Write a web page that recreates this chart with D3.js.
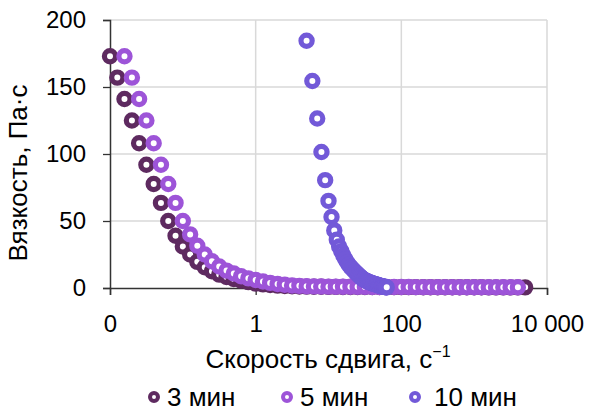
<!DOCTYPE html>
<html>
<head>
<meta charset="utf-8">
<script src="https://d3js.org/d3.v7.min.js"></script>
<style>
  body { margin:0; background:#fff; }
  text { font-family: "Liberation Sans", Arial, sans-serif; fill:#000; }
  .grid-line { stroke:#d9d9d9; stroke-width:1.5; }
</style>
</head>
<body>
<script>
// shear rate, 1/s
var rate3 = [0.01,0.0126,0.0158,0.02,0.0251,0.0316,0.0398,0.0501,0.0631,0.0794,
  0.1,0.126,0.158,0.2,0.251,0.316,0.398,0.501,0.631,0.794,
  1,1.26,1.58,2,2.51,3.16,3.98,5.01,6.31,7.94,
  10,12.6,15.8,20,25.1,31.6,39.8,50.1,63.1,79.4,
  100,126,158,200,251,316,398,501,631,794,
  1000,1259,1585,1995,2512,3162,3981,5012];
var visc3 = [173,157,141,125,108,92,77.6,63.5,50,39,
  31,25,19.5,15.5,12.5,10,8.2,6.7,5.5,4.4,
  3.3,2.7,2.2,1.8,1.5,1.3,1.15,1.05,0.95,0.88,
  0.85,0.82,0.8,0.78,0.76,0.74,0.72,0.7,0.68,0.66,
  0.65,0.63,0.62,0.6,0.59,0.58,0.56,0.55,0.54,0.53,
  0.52,0.51,0.5,0.5,0.49,0.48,0.48,0.47];

var rate5 = [0.0158,0.02,0.0251,0.0316,0.0398,0.0501,0.0631,0.0794,
  0.1,0.126,0.158,0.2,0.251,0.316,0.398,0.501,0.631,0.794,
  1,1.26,1.58,2,2.51,3.16,3.98,5.01,6.31,7.94,
  10,12.6,15.8,20,25.1,31.6,39.8,50.1,63.1,79.4,
  100,126,158,200,251,316,398,501,631,794,
  1000,1259,1585,1995,2512,3162,3981];
var visc5 = [173,157,141,125,108,92,77.6,63.5,
  50,40,31.5,25,20,16,13,10.8,8.8,7.2,
  6,4.8,3.8,3,2.4,1.9,1.6,1.35,1.2,1.1,
  1.0,0.95,0.9,0.88,0.85,0.82,0.8,0.78,0.76,0.74,
  0.72,0.7,0.68,0.66,0.65,0.63,0.62,0.6,0.59,0.58,
  0.57,0.56,0.55,0.54,0.53,0.52,0.52];

var rate10 = [5,6,7,8,9,10,11,12,13,14,15,16,17,18,19,20,21,22,23,24,25,26,27,28,29,30,
  31,32,33,34,35,36,37,38,39,40,41,42,43,44,45,46,47,48,49,50,
  51,52,53,54,55,56,57,58,59,60,61,62,63];
var visc10 = [184.5,154.5,126.5,101.5,80.5,65,53,43,36,31,27.5,24.3,21.5,19.2,17.3,15.8,14.5,13.4,
  12.3,11.3,10.4,9.5,8.7,7.9,7.2,6.5,
  6.1,5.7,5.3,5.0,4.7,4.4,4.1,3.9,3.7,3.5,3.3,3.1,2.9,2.8,2.6,2.4,2.3,2.1,2.0,1.8,
  1.7,1.5,1.4,1.3,1.2,1.1,1.0,0.9,0.8,0.7,0.65,0.6,0.5];

var seriesNames = ["3 мин", "5 мин", "10 мин"];
var seriesColors = ["#5e2a60", "#9d54d8", "#7259d8"];

var xTicks = [0.01, 1, 100, 10000];
var xTickLabels = ["0", "1", "100", "10 000"];
var yTicks = [0, 50, 100, 150, 200];

var W = 592, H = 412;
var plotLeft = 110, plotRight = 547, plotTop = 20, plotBottom = 288;
var tickFont = 24, titleFont = 26;

var svg = d3.select("body").append("svg")
  .attr("width", W).attr("height", H);

var x = d3.scaleLog().domain([0.01, 10000]).range([plotLeft, plotRight]);
var y = d3.scaleLinear().domain([0, 200]).range([plotBottom, plotTop]);

// grid
svg.append("g").selectAll("line")
  .data(yTicks.slice(1))
  .enter().append("line")
    .attr("class", "grid-line")
    .attr("x1", plotLeft).attr("x2", plotRight)
    .attr("y1", d => y(d)).attr("y2", d => y(d));
svg.append("g").selectAll("line")
  .data(xTicks.slice(1))
  .enter().append("line")
    .attr("class", "grid-line")
    .attr("x1", d => x(d)).attr("x2", d => x(d))
    .attr("y1", plotTop).attr("y2", plotBottom);

// axes
var yAxis = d3.axisLeft(y).tickValues(yTicks).tickSize(7).tickPadding(17);
var yg = svg.append("g").attr("transform", "translate(" + plotLeft + ",0)").call(yAxis);
var xAxis = d3.axisBottom(x).tickValues(xTicks).tickFormat((d, i) => xTickLabels[i]).tickSize(7).tickPadding(20);
var xg = svg.append("g").attr("transform", "translate(0," + plotBottom + ")").call(xAxis);
[yg, xg].forEach(g => {
  g.select(".domain").attr("stroke", "#333").attr("stroke-width", 1.5);
  g.selectAll(".tick line").attr("stroke", "#333").attr("stroke-width", 1.3);
  g.selectAll(".tick text").attr("font-size", tickFont).attr("fill", "#000")
    .attr("font-family", "Liberation Sans, Arial, sans-serif");
});

// series
var series = [
  {name: seriesNames[0], rate: rate3, visc: visc3, color: seriesColors[0]},
  {name: seriesNames[1], rate: rate5, visc: visc5, color: seriesColors[1]},
  {name: seriesNames[2], rate: rate10, visc: visc10, color: seriesColors[2]}
];

series.forEach(s => {
  svg.append("g").selectAll("circle")
    .data(s.rate.map((r, i) => ({r: r, v: s.visc[i]})))
    .enter().append("circle")
      .attr("cx", d => x(d.r))
      .attr("cy", d => y(d.v))
      .attr("r", 5.6)
      .attr("fill", "#fff")
      .attr("stroke", s.color)
      .attr("stroke-width", 5.2);
});

// axis titles
svg.append("text")
  .attr("transform", "translate(27,173) rotate(-90)")
  .attr("text-anchor", "middle")
  .attr("font-size", titleFont)
  .text("Вязкость, Па·с");

var xt = svg.append("text")
  .attr("x", 328).attr("y", 368)
  .attr("text-anchor", "middle")
  .attr("font-size", titleFont);
xt.append("tspan").text("Скорость сдвига, с");
xt.append("tspan").attr("dy", -11).attr("font-size", 16).text("−1");

// legend
var legendX = [154, 287, 415];
var legendTextX = [167, 300, 434];
var lg = svg.append("g").selectAll("g")
  .data(series)
  .enter().append("g")
    .attr("transform", (d, i) => "translate(" + legendX[i] + ",397)");
lg.append("circle")
  .attr("r", 4).attr("fill", "#fff")
  .attr("stroke", d => d.color).attr("stroke-width", 4);
lg.append("text")
  .attr("x", (d, i) => legendTextX[i] - legendX[i]).attr("y", 9)
  .attr("font-size", titleFont)
  .text(d => d.name);
</script>
</body>
</html>
